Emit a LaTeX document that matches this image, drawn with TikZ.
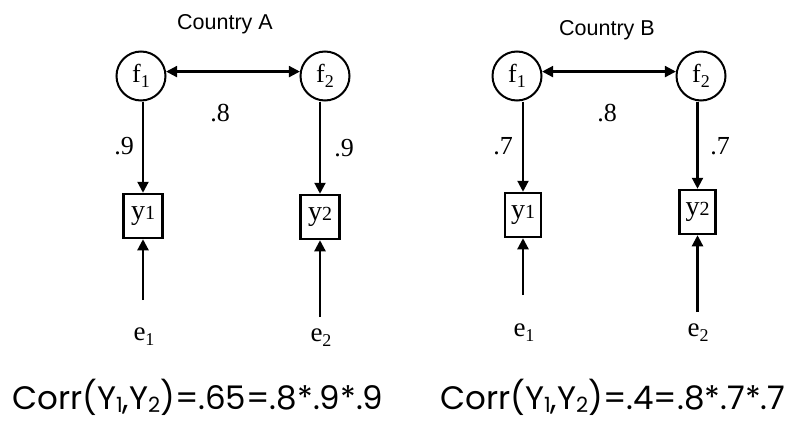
\documentclass[tikz,border=0pt]{standalone}
\usepackage{fontspec}
\setmainfont{Liberation Serif}
\newfontfamily\headfont{Liberation Sans}
\newfontfamily\formfont{Poppins}
\usetikzlibrary{arrows.meta}
\tikzset{
  x=1pt, y=-1pt,
  latent/.style={draw, line width=2pt, circle, minimum size=49pt, inner sep=0pt, font=\fontsize{26}{26}\selectfont},
  observed/.style={draw, line width=2.5pt, rectangle, minimum width=39pt, minimum height=44pt, inner sep=0pt, font=\fontsize{28}{28}\selectfont},
  path/.style={line width=2.2pt, -{Triangle[length=11pt,width=11pt]}},
  both/.style={line width=2.2pt, {Triangle[length=11pt,width=11pt]}-{Triangle[length=11pt,width=11pt]}},
  coef/.style={font=\fontsize{26}{26}\selectfont, inner sep=0pt},
  errlab/.style={font=\fontsize{27}{27}\selectfont, inner sep=0pt},
  title/.style={font=\headfont\fontsize{21.5}{21.5}\selectfont, inner sep=0pt},
  formula/.style={font=\formfont\fontsize{32.5}{32.5}\selectfont, inner sep=0pt, anchor=base west}
}
\newcommand{\lowsub}[1]{\raisebox{-5pt}{\fontsize{18}{18}\selectfont #1}}
\newcommand{\flatsub}[1]{{\fontsize{20}{20}\selectfont #1}}
\newcommand{\formsub}[1]{\raisebox{-3pt}{\fontsize{21}{21}\selectfont #1}}
\begin{document}
\begin{tikzpicture}
\useasboundingbox (0,0) rectangle (808,423);

% ---------------- Country A ----------------
\node[title] (cA) at (225,24) {Country A};
\node[latent] (f1A) at (141,76) {f\lowsub{1}};
\node[latent] (f2A) at (325,76) {f\lowsub{2}};
\node[observed] (y1A) at (143,216) {y\flatsub{1}};
\node[observed] (y2A) at (320,217) {y\flatsub{2}};
\coordinate (s1A) at (143,300);
\coordinate (s2A) at (320,317);
\node[errlab] (e1A) at (144,337) {e\lowsub{1}};
\node[errlab] (e2A) at (321,338) {e\lowsub{2}};

\draw[both] (f1A.10) -- (f2A.170);
\draw[path] (f1A.south -| y1A.north) -- (y1A.north);
\draw[path] (f2A.south -| y2A.north) -- (y2A.north);
\draw[path] (s1A) -- (y1A.south);
\draw[path] (s2A) -- (y2A.south);

\node[coef] (lA1) at (124,146) {.9};
\node[coef] (lA2) at (344,148) {.9};
\node[coef] (cAr) at (220,113) {.8};

% ---------------- Country B ----------------
\node[title] (cB) at (607,30) {Country B};
\node[latent] (f1B) at (517,76) {f\lowsub{1}};
\node[latent] (f2B) at (701,76) {f\lowsub{2}};
\node[observed, minimum width=36pt] (y1B) at (523,215) {y\flatsub{1}};
\node[observed, minimum width=36pt] (y2B) at (697.5,212) {y\flatsub{2}};
\coordinate (s1B) at (523,295);
\coordinate (s2B) at (697.5,312);
\node[errlab] (e1B) at (524,333) {e\lowsub{1}};
\node[errlab] (e2B) at (698,333) {e\lowsub{2}};

\draw[both] (f1B.10) -- (f2B.170);
\draw[path] (f1B.south -| y1B.north) -- (y1B.north);
\draw[path] (f2B.south -| y2B.north) -- (y2B.north);
\draw[path] (s1B) -- (y1B.south);
\draw[path] (s2B) -- (y2B.south);

\node[coef] (lB1) at (503,146) {.7};
\node[coef] (lB2) at (720,146) {.7};
\node[coef] (cBr) at (607,113) {.8};

% ---------------- implied correlations ----------------
\node[formula] (corrA) at (12,409) {Corr(Y\formsub{1},Y\formsub{2})=.65=.8*.9*.9};
\node[formula] (corrB) at (440,409) {Corr(Y\formsub{1},Y\formsub{2})=.4=.8*.7*.7};
\end{tikzpicture}
\end{document}
